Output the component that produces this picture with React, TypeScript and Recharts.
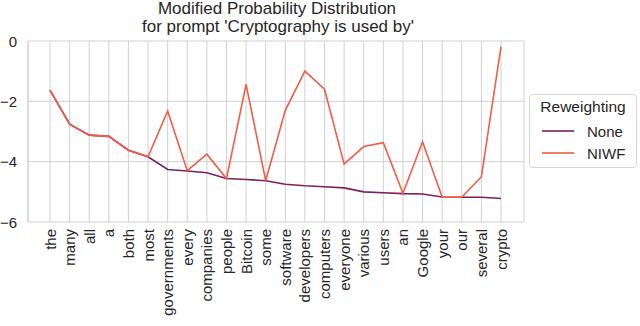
import React from "react";
import { LineChart, Line, XAxis, YAxis, CartesianGrid } from "recharts";

const categories = [
  "the", "many", "all", "a", "both", "most", "governments", "every", "companies",
  "people", "Bitcoin", "some", "software", "developers", "computers", "everyone",
  "various", "users", "an", "Google", "your", "our", "several", "crypto",
];

const noneValues = [
  -1.63, -2.76, -3.12, -3.16, -3.62, -3.84, -4.26, -4.31, -4.37,
  -4.56, -4.59, -4.63, -4.75, -4.8, -4.83, -4.87,
  -5.0, -5.03, -5.06, -5.07, -5.17, -5.18, -5.18, -5.22,
];

const niwfValues = [
  -1.63, -2.76, -3.12, -3.16, -3.62, -3.84, -2.32, -4.3, -3.75,
  -4.56, -1.44, -4.63, -2.3, -1.0, -1.6, -4.08,
  -3.5, -3.37, -5.05, -3.34, -5.18, -5.18, -4.5, -0.19,
];

const yTicks = [-6, -4, -2, 0];

const seriesNames = ["None", "NIWF"];
const seriesColors = ["#7b1f5e", "#f15c45"];

const titleLines = ["Modified Probability Distribution", "for prompt 'Cryptography is used by'"];
const legendTitle = "Reweighting";

const data = categories.map((c, i) => ({ token: c, None: noneValues[i], NIWF: niwfValues[i] }));

const FONT = "'Liberation Sans', Arial, sans-serif";
const TEXT = "#262626";
const GRID = "#d0d0d0";

const XTick = (props: any) => {
  const { x, y, payload } = props;
  return (
    <text
      x={x}
      y={y}
      transform={`rotate(-90, ${x}, ${y})`}
      textAnchor="end"
      dominantBaseline="central"
      fontFamily={FONT}
      fontSize={15}
      fill={TEXT}
    >
      {payload.value}
    </text>
  );
};

const YTick = (props: any) => {
  const { x, y, payload } = props;
  const v = Number(payload.value);
  const label = v < 0 ? "\u2212" + String(Math.abs(v)) : String(v);
  return (
    <text x={x} y={y} textAnchor="end" dominantBaseline="central" fontFamily={FONT} fontSize={15} fill={TEXT}>
      {label}
    </text>
  );
};

export default function App() {
  return (
    <div style={{ position: "absolute", left: 0, top: 0, width: 640, height: 326, background: "#fff" }}>
      <LineChart
        width={640}
        height={326}
        data={data}
        margin={{ top: 41, right: 116, bottom: 0, left: 0 }}
      >
        <CartesianGrid stroke={GRID} strokeWidth={1} />
        <XAxis
          dataKey="token"
          type="category"
          interval={0}
          height={104}
          padding={{ left: 22, right: 23 }}
          axisLine={false}
          tickLine={false}
          tickSize={0}
          tickMargin={7}
          tick={<XTick />}
        />
        <YAxis
          domain={[-6, 0]}
          ticks={yTicks}
          width={28}
          axisLine={{ stroke: GRID }}
          tickLine={false}
          tickSize={0}
          tickMargin={11}
          tick={<YTick />}
          allowDataOverflow
        />
        <YAxis
          yAxisId="right"
          orientation="right"
          domain={[-6, 0]}
          width={0}
          tick={false}
          tickLine={false}
          axisLine={{ stroke: GRID }}
        />
        {seriesNames.map((name, i) => (
          <Line
            key={name}
            dataKey={name}
            type="linear"
            stroke={seriesColors[i]}
            strokeWidth={1.6}
            dot={false}
            activeDot={false}
            isAnimationActive={false}
          />
        ))}
      </LineChart>
      <svg
        width={640}
        height={326}
        style={{ position: "absolute", left: 0, top: 0, pointerEvents: "none" }}
      >
        <text textAnchor="middle" fontFamily={FONT} fontSize={17} fill={TEXT}>
          <tspan x={277} y={14}>{titleLines[0]}</tspan>
          <tspan x={278} y={32}>{titleLines[1]}</tspan>
        </text>
        <rect x={529.5} y={94.5} width={107} height={73} rx={3} fill="#fff" stroke="#d6d6d6" strokeWidth={1} />
        <text x={583} y={112} textAnchor="middle" fontFamily={FONT} fontSize={15.5} fill={TEXT}>
          {legendTitle}
        </text>
        {seriesNames.map((name, i) => (
          <g key={name}>
            <line x1={542} x2={574} y1={131 + i * 22} y2={131 + i * 22} stroke={seriesColors[i]} strokeWidth={1.6} />
            <text x={587} y={131 + i * 22} dominantBaseline="central" fontFamily={FONT} fontSize={15} fill={TEXT}>
              {name}
            </text>
          </g>
        ))}
      </svg>
    </div>
  );
}
